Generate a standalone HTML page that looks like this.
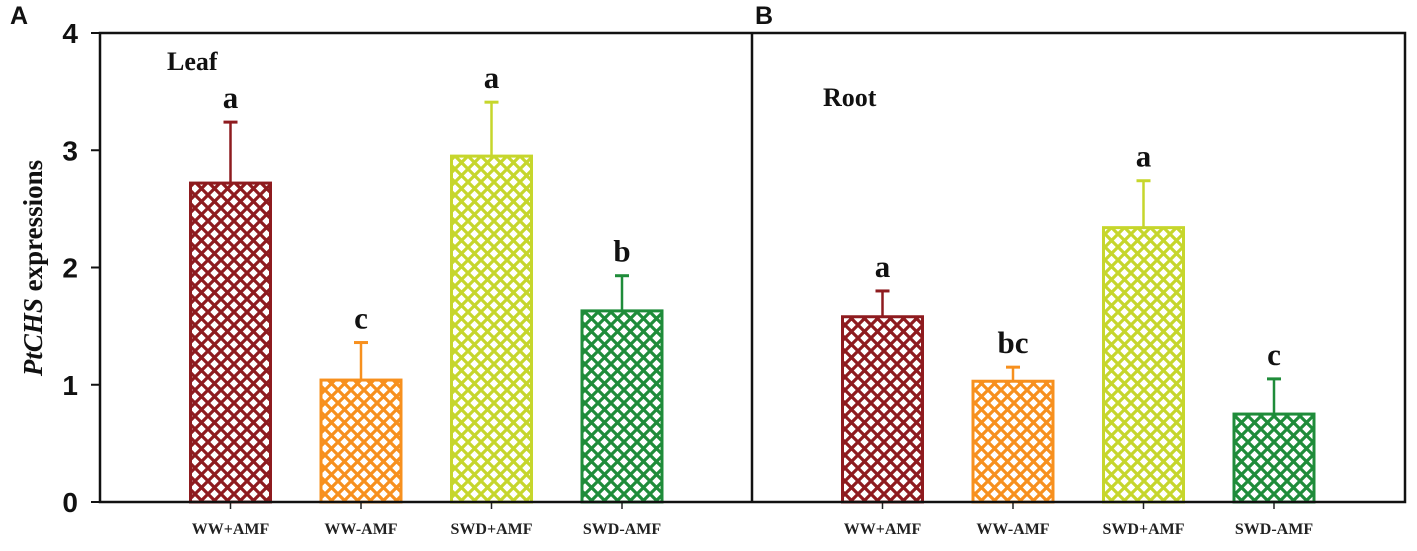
<!DOCTYPE html>
<html><head><meta charset="utf-8"><style>
html,body{margin:0;padding:0;background:#fff;}
svg{display:block;}
</style></head><body>
<svg id="chart" width="1417" height="551" viewBox="0 0 1417 551" xmlns="http://www.w3.org/2000/svg">
<defs id="defs"></defs>
<g id="g"></g>
</svg>
<script>
const categories = ["WW+AMF","WW-AMF","SWD+AMF","SWD-AMF"];
const leafValues = [2.72, 1.04, 2.95, 1.63];
const leafErrors = [0.52, 0.32, 0.46, 0.30];
const leafLetters = ["a","c","a","b"];
const rootValues = [1.58, 1.03, 2.34, 0.75];
const rootErrors = [0.22, 0.12, 0.40, 0.30];
const rootLetters = ["a","bc","a","c"];
const yTicks = [0,1,2,3,4];
const colors = ["#8e1b1f","#f7901e","#c6d62c","#1f8c3a"];

const NS="http://www.w3.org/2000/svg";
const g=document.getElementById('g');
const defs=document.getElementById('defs');
const Y0=502, YTOP=33, YMAX=4;
const y=v=>Y0-(v/YMAX)*(Y0-YTOP);
const LEFT=100, DIV=752, RIGHT=1405;
const band=130.5, barW=80;
const xc=(panelX,i)=>panelX+band*(i+1);
function el(tag,attrs,parent){const e=document.createElementNS(NS,tag);for(const k in attrs)e.setAttribute(k,attrs[k]);(parent||g).appendChild(e);return e;}

colors.forEach((c,i)=>{
  const p=el('pattern',{id:'pat'+i,width:13,height:13,patternUnits:'userSpaceOnUse'},defs);
  el('rect',{width:13,height:13,fill:'#fff'},p);
  el('path',{d:'M-1,1 L1,-1 M0,13 L13,0 M12,14 L14,12 M-1,12 L1,14 M0,0 L13,13 M12,-1 L14,1',stroke:c,'stroke-width':3.2},p);
});

function panel(px,vals,errs,letters,pname){
  vals.forEach((v,i)=>{
    const cx=xc(px,i), c=colors[i];
    const et=y(v+errs[i]);
    const eb=el('line',{x1:cx,x2:cx,y1:y(v),y2:et,stroke:c,'stroke-width':2.5});
    
    
    const cap=el('line',{x1:cx-7,x2:cx+7,y1:et,y2:et,stroke:c,'stroke-width':3});
    
    
    const r=el('rect',{x:cx-barW/2,y:y(v),width:barW,height:Y0-y(v),fill:'url(#pat'+i+')',stroke:c,'stroke-width':3});
    
    
    const t=el('text',{x:cx,y:et-14,'text-anchor':'middle','font-family':'Liberation Serif, serif','font-weight':'bold','font-size':31,fill:'#111'});
    t.textContent=letters[i];
    
    
    const tk=el('line',{x1:cx,x2:cx,y1:Y0,y2:Y0+7,stroke:'#222','stroke-width':1.5});
    
    
    const lb=el('text',{x:cx,y:534,'text-anchor':'middle','font-family':'Liberation Serif, serif','font-weight':'bold','font-size':16,fill:'#222'});
    lb.textContent=categories[i];
    
    
  });
}
panel(LEFT,leafValues,leafErrors,leafLetters,'leaf');
panel(DIV,rootValues,rootErrors,rootLetters,'root');

const frame=el('rect',{x:LEFT,y:YTOP,width:RIGHT-LEFT,height:Y0-YTOP,fill:'none',stroke:'#111','stroke-width':2.5});


const dv=el('line',{x1:DIV,x2:DIV,y1:YTOP,y2:Y0,stroke:'#111','stroke-width':2.5});



yTicks.forEach(v=>{
  const tk=el('line',{x1:LEFT-9,x2:LEFT,y1:y(v),y2:y(v),stroke:'#111','stroke-width':2});
  
  
  const t=el('text',{x:78,y:y(v)+10,'text-anchor':'end','font-family':'Liberation Sans, sans-serif','font-weight':'bold','font-size':28,fill:'#111'});
  t.textContent=v;
  
  
});
</script>
<svg width="0" height="0" style="position:absolute"></svg>
<div style="position:absolute;left:0;top:0;width:1417px;height:551px;pointer-events:none">
<svg width="1417" height="551" xmlns="http://www.w3.org/2000/svg">
<text x="10" y="24" font-family="Liberation Sans, sans-serif" font-weight="bold" font-size="25" fill="#111">A</text>
<text x="755" y="24" font-family="Liberation Sans, sans-serif" font-weight="bold" font-size="25" fill="#111">B</text>
<text x="167" y="70" font-family="Liberation Serif, serif" font-weight="bold" font-size="26" fill="#111">Leaf</text>
<text x="823" y="106" font-family="Liberation Serif, serif" font-weight="bold" font-size="26" fill="#111">Root</text>
<text transform="translate(42,268) rotate(-90)" text-anchor="middle" font-family="Liberation Serif, serif" font-weight="bold" font-size="27" fill="#111"><tspan font-style="italic">PtCHS</tspan> expressions</text>
</svg></div>
</body></html>
